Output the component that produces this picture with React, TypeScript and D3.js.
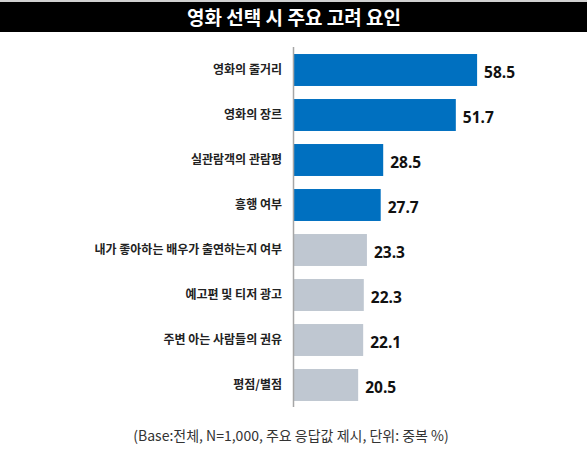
import { useEffect, useRef } from 'react'
import { select, scaleBand, scaleLinear } from 'd3'

const title = '영화 선택 시 주요 고려 요인'
const footnote = '(Base:전체, N=1,000, 주요 응답값 제시, 단위: 중복 %)'

const categories = [
  '영화의 줄거리',
  '영화의 장르',
  '실관람객의 관람평',
  '흥행 여부',
  '내가 좋아하는 배우가 출연하는지 여부',
  '예고편 및 티저 광고',
  '주변 아는 사람들의 권유',
  '평점/별점',
]
const values = [58.5, 51.7, 28.5, 27.7, 23.3, 22.3, 22.1, 20.5]
// the top 4 are highlighted in blue
const highlighted = [true, true, true, true, false, false, false, false]

const W = 587
const H = 458
const KR = '"Noto Sans CJK KR", "Noto Sans", sans-serif'

const App = () => {
  const svgRef = useRef(null)

  useEffect(() => {
    document.body.style.margin = '0'
    const svg = select(svgRef.current)
    svg.selectAll('*').remove()
    svg.attr('width', W).attr('height', H).style('display', 'block').style('background', '#fff')

    const x0 = 294
    const x = scaleLinear().domain([0, 60]).range([x0, x0 + 187.8])
    const y = scaleBand().domain(categories).range([47.5, 407.5]).paddingInner(0.29).paddingOuter(0.145)

    // title bar
    svg.append('rect').attr('x', 0).attr('y', 0).attr('width', W).attr('height', 2).attr('fill', '#d0d0d0')
    svg.append('rect').attr('x', 0).attr('y', 2).attr('width', W).attr('height', 30).attr('fill', '#000')
    svg
      .append('text')
      .attr('x', 294)
      .attr('y', 18)
      .attr('dy', '0.35em')
      .attr('text-anchor', 'middle')
      .attr('fill', '#fff')
      .attr('font-family', KR)
      .attr('font-size', '19px')
      .attr('font-weight', 600)
      .text(title)

    // bars
    svg
      .append('g')
      .selectAll('rect')
      .data(categories)
      .join('rect')
      .attr('x', x(0))
      .attr('y', (d) => y(d)!)
      .attr('width', (_, i) => x(values[i]) - x(0))
      .attr('height', y.bandwidth())
      .attr('fill', (_, i) => (highlighted[i] ? '#0070C0' : '#BFC7D1'))

    // axis line
    svg
      .append('line')
      .attr('x1', x(0) - 0.5)
      .attr('x2', x(0) - 0.5)
      .attr('y1', 47)
      .attr('y2', 407)
      .attr('stroke', '#a6a6a6')
      .attr('stroke-width', 1.5)

    // category labels
    svg
      .append('g')
      .selectAll('text')
      .data(categories)
      .join('text')
      .attr('x', 282)
      .attr('y', (d) => y(d)! + y.bandwidth() / 2)
      .attr('dy', '0.35em')
      .attr('text-anchor', 'end')
      .attr('fill', '#222')
      .attr('font-family', KR)
      .attr('font-size', '12px')
      .attr('font-weight', 600)
      .text((d) => d)

    // value labels
    svg
      .append('g')
      .selectAll('text')
      .data(categories)
      .join('text')
      .attr('x', (_, i) => x(values[i]) + 7)
      .attr('y', (d) => y(d)! + y.bandwidth() / 2 + 3)
      .attr('dy', '0.35em')
      .attr('fill', '#111')
      .attr('font-family', '"Open Sans", sans-serif')
      .attr('font-size', '15.5px')
      .attr('font-weight', 700)
      .text((_, i) => values[i].toFixed(1))

    // footnote
    svg
      .append('text')
      .attr('x', 291)
      .attr('y', 436)
      .attr('dy', '0.35em')
      .attr('text-anchor', 'middle')
      .attr('fill', '#333')
      .attr('font-family', KR)
      .attr('font-size', '14px')
      .text(footnote)
  }, [])

  return <svg ref={svgRef} />
}

export default App
